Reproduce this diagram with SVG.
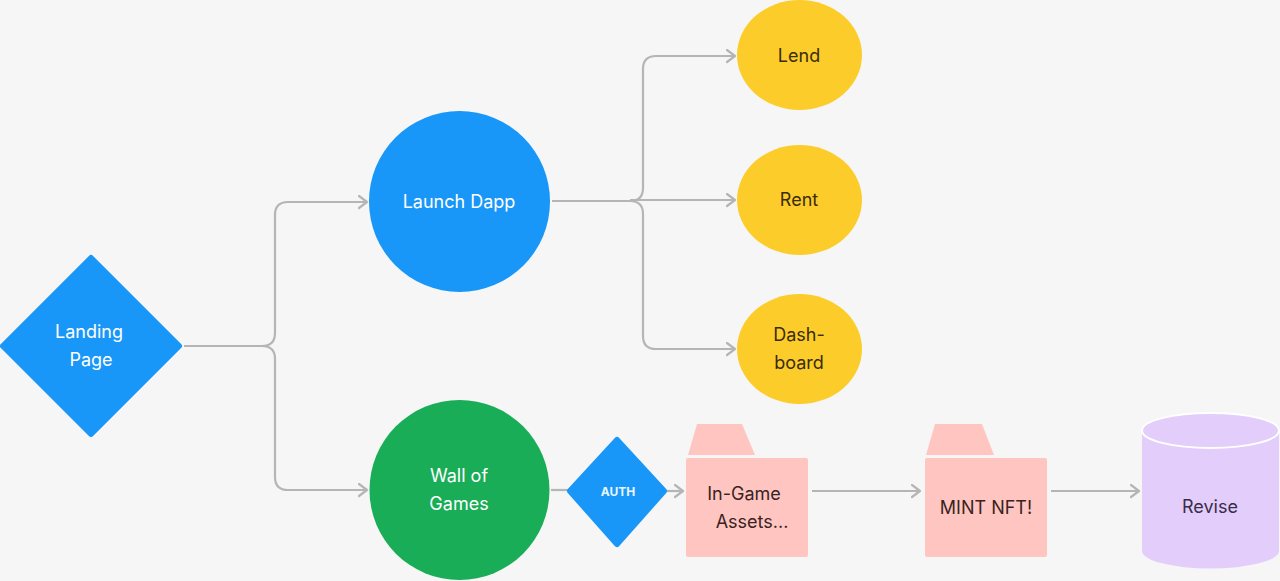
<svg xmlns="http://www.w3.org/2000/svg" width="1280" height="581" viewBox="0 0 1280 581">
<style>
.conn{fill:none;stroke:#b5b5b5;stroke-width:2.2;stroke-linejoin:round}
.t{font-family:Inter,"Liberation Sans",sans-serif;font-size:18px;text-anchor:middle}
.w{fill:#ffffff}
.d{fill:#3a2c0c}
.p{fill:#3b2222}
.v{fill:#3a2c48}
</style>
<defs>
<marker id="arr" markerUnits="userSpaceOnUse" markerWidth="14" markerHeight="16" refX="9" refY="7" orient="auto">
<path d="M1,1 L9,7 L1,13" fill="none" stroke="#b5b5b5" stroke-width="2.2" stroke-linejoin="round" stroke-linecap="round"/>
</marker>
</defs>
<rect width="1280" height="581" fill="#f6f6f6"/>
<g id="connectors">
<path class="conn" d="M184,346 H262 Q275,346 275,333 V215 Q275,202 288,202 H367" marker-end="url(#arr)"/>
<path class="conn" d="M262,346 Q275,346 275,359 V477 Q275,490 288,490 H367" marker-end="url(#arr)"/>
<path class="conn" d="M552,201 H630 Q643,201 643,188 V69 Q643,56 656,56 H735" marker-end="url(#arr)"/>
<path class="conn" d="M630,200 H735" marker-end="url(#arr)"/>
<path class="conn" d="M630,201 Q643,201 643,214 V336 Q643,349 656,349 H735" marker-end="url(#arr)"/>
<path class="conn" d="M551,490 H568"/>
<path class="conn" d="M667,491 H683" marker-end="url(#arr)"/>
<path class="conn" d="M812,491 H920" marker-end="url(#arr)"/>
<path class="conn" d="M1051,491 H1139" marker-end="url(#arr)"/>
</g>
<g id="landing">
<path d="M91,258 L179,346 L91,434 L3,346 Z" fill="#1897f8" stroke="#1897f8" stroke-width="6" stroke-linejoin="round"/>
<text class="t w" x="89" y="338">Landing</text>
<text class="t w" x="91" y="366">Page</text>
</g>
<g id="launch">
<circle cx="459.5" cy="201.5" r="90.5" fill="#1897f8"/>
<text class="t w" x="459" y="208">Launch Dapp</text>
</g>
<g id="wall">
<circle cx="459.5" cy="490" r="90" fill="#18ad56"/>
<text class="t w" x="459" y="482">Wall of</text>
<text class="t w" x="459" y="510">Games</text>
</g>
<g id="lend">
<ellipse cx="799.5" cy="55" rx="62.5" ry="55" fill="#fccd2a"/>
<text class="t d" x="799" y="62">Lend</text>
</g>
<g id="rent">
<ellipse cx="799.5" cy="200" rx="62.5" ry="55" fill="#fccd2a"/>
<text class="t d" x="799" y="206">Rent</text>
</g>
<g id="dashboard">
<ellipse cx="799.5" cy="349" rx="62.5" ry="55" fill="#fccd2a"/>
<text class="t d" x="799" y="341">Dash-</text>
<text class="t d" x="799" y="369">board</text>
</g>
<g id="auth">
<path d="M617,440 L664,491 L617,544 L570,491 Z" fill="#1897f8" stroke="#1897f8" stroke-width="6" stroke-linejoin="round"/>
<text x="618" y="496" font-family="Inter,'Liberation Sans',sans-serif" font-size="12" font-weight="bold" fill="#eaf4ff" text-anchor="middle">AUTH</text>
</g>
<g id="ingame">
<path d="M688,455 L697,424 L742,424 L755,455 Z" fill="#ffc6c1"/>
<rect x="686" y="458" width="122" height="99" rx="2" fill="#ffc6c1"/>
<text class="t p" x="744" y="500">In-Game</text>
<text class="t p" x="752" y="528">Assets...</text>
</g>
<g id="mint">
<path d="M926,455 L935,424 L982,424 L994,455 Z" fill="#ffc6c1"/>
<rect x="925" y="458" width="122" height="99" rx="2" fill="#ffc6c1"/>
<text class="t p" x="986" y="514">MINT NFT!</text>
</g>
<g id="revise">
<path d="M1142,430 V551 A68.5,17.5 0 0 0 1279,551 V430 Z" fill="#e3cdfb"/>
<ellipse cx="1210.5" cy="430.5" rx="68.5" ry="17.5" fill="#e3cdfb" stroke="#ffffff" stroke-width="2"/>
<text class="t v" x="1210" y="513">Revise</text>
</g>
</svg>
